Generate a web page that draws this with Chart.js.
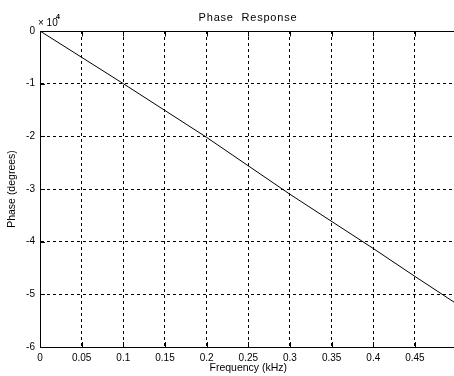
<!DOCTYPE html>
<html>
<head>
<meta charset="utf-8">
<script src="https://cdn.jsdelivr.net/npm/chart.js@4/dist/chart.umd.min.js"></script>
<style>
  html, body { margin: 0; padding: 0; background: #fff; overflow: hidden; }
  canvas { display: block; }
</style>
</head>
<body>
<canvas id="grafico" width="460" height="376"></canvas>
<script>
// frecuencia (kHz) y fase (x 10^4 grados)
const frecuencias = [0, 0.1, 0.2, 0.3, 0.4, 0.45, 0.5];
const fases = [0, -1.0, -2.02, -3.1, -4.13, -4.66, -5.18];
const etiquetasX = ['0', '0.05', '0.1', '0.15', '0.2', '0.25', '0.3', '0.35', '0.4', '0.45'];
const etiquetasY = ['-6', '-5', '-4', '-3', '-2', '-1', '0'];

const fuente = "'Liberation Sans', Arial, sans-serif";

// titulo, factor x10^4, borde superior y marcas interiores
const extras = {
    id: 'extras',
    afterDraw(chart) {
        const ctx = chart.ctx;
        const area = chart.chartArea;
        const sx = chart.scales.x;
        const sy = chart.scales.y;
        ctx.save();
        ctx.strokeStyle = '#000';
        ctx.lineWidth = 1;
        ctx.setLineDash([]);
        ctx.beginPath();
        const top = Math.round(area.top) + 0.5;
        ctx.moveTo(area.left, top);
        ctx.lineTo(area.right, top);
        sx.ticks.forEach(t => {
            const px = Math.round(sx.getPixelForValue(t.value)) + 0.5;
            ctx.moveTo(px, top);
            ctx.lineTo(px, top + 5);
            ctx.moveTo(px, area.bottom);
            ctx.lineTo(px, area.bottom - 5);
        });
        sy.ticks.forEach(t => {
            const py = Math.round(sy.getPixelForValue(t.value)) + 0.5;
            ctx.moveTo(area.left, py);
            ctx.lineTo(area.left + 5, py);
        });
        ctx.stroke();

        ctx.fillStyle = '#000';
        ctx.textBaseline = 'alphabetic';
        ctx.textAlign = 'center';
        ctx.font = '11px ' + fuente;
        ctx.letterSpacing = '0.8px';
        ctx.fillText('Phase  Response', 248, 21);
        ctx.letterSpacing = '0px';

        ctx.textAlign = 'left';
        ctx.font = '10px ' + fuente;
        ctx.fillText('\u00d7 10', 38, 26);
        ctx.font = 'bold 7px ' + fuente;
        ctx.fillText('4', 56, 19);
        ctx.restore();
    }
};

new Chart(document.getElementById('grafico').getContext('2d'), {
    type: 'line',
    data: {
        datasets: [{
            data: frecuencias.map((f, i) => ({ x: f, y: fases[i] })),
            borderColor: '#000',
            borderWidth: 1,
            pointRadius: 0,
            tension: 0,
            fill: false
        }]
    },
    options: {
        responsive: false,
        animation: false,
        events: [],
        layout: { padding: { top: 31, right: 3.4, left: 0, bottom: 0 } },
        plugins: { legend: { display: false }, tooltip: { enabled: false } },
        scales: {
            x: {
                type: 'linear',
                min: 0,
                max: 0.5,
                afterFit: s => { s.height = 29; s.paddingLeft = 0; s.paddingRight = 0; },
                grid: { color: '#000', drawTicks: false, tickLength: 0 },
                border: { display: true, color: '#000', width: 1, dash: [3, 3] },
                ticks: {
                    stepSize: 0.05,
                    padding: 5,
                    color: '#000',
                    font: { family: fuente, size: 10 },
                    maxRotation: 0,
                    autoSkip: false,
                    callback: (v, i) => etiquetasX[i] || ''
                },
                title: {
                    display: true,
                    text: 'Frequency (kHz)',
                    color: '#000',
                    font: { family: fuente, size: 10.5 },
                    padding: { top: 0, bottom: 2 }
                }
            },
            y: {
                min: -6,
                max: 0,
                afterFit: s => { s.width = 40; s.paddingTop = 0; s.paddingBottom = 0; },
                grid: { color: '#000', drawTicks: false, tickLength: 0 },
                border: { display: true, color: '#000', width: 1, dash: [3, 3] },
                ticks: {
                    stepSize: 1,
                    padding: 5,
                    color: '#000',
                    font: { family: fuente, size: 10 },
                    callback: (v, i) => etiquetasY[i]
                },
                title: {
                    display: true,
                    text: 'Phase (degrees)',
                    color: '#000',
                    font: { family: fuente, size: 10.5 },
                    padding: { top: 6, bottom: 0 }
                }
            }
        }
    },
    plugins: [extras]
});
</script>
</body>
</html>
